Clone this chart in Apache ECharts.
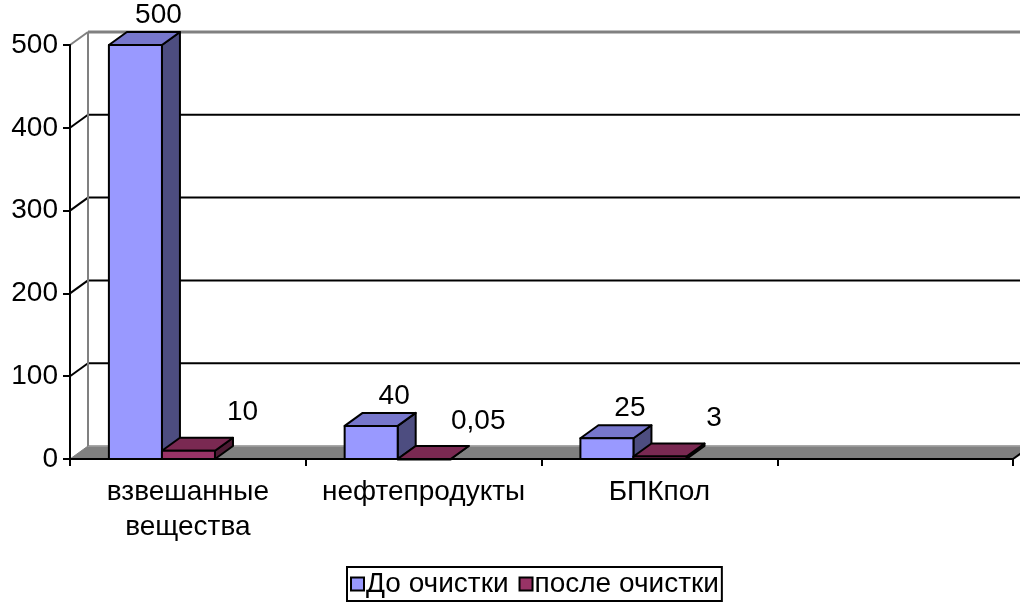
<!DOCTYPE html>
<html><head><meta charset="utf-8">
<script src="https://cdn.jsdelivr.net/npm/echarts@6/dist/echarts.min.js"></script>
<style>html,body{margin:0;padding:0;background:#fff}#chart{width:1020px;height:611px}</style>
</head><body><div id="chart"></div>
<script>
// ---- data ----
const categories = ['взвешанные\nвещества', 'нефтепродукты', 'БПКпол', ''];
const seriesNames = ['До очистки', 'после очистки'];
const beforeValues = [500, 40, 25];
const afterValues = [10, 0.05, 3];
const yTicks = [0, 100, 200, 300, 400, 500];

// ---- style ----
const DX = 18, DY = 13;
const FONT = '"Liberation Sans", Arial, sans-serif';
const FS = 28;
const palettes = [
  { front: '#9999FF', top: '#7777CC', side: '#4D4D80' },
  { front: '#993366', top: '#7A2952', side: '#4D1A33' }
];
const labelOffsets = [[5, -17], [36, -25]];
const yMin = yTicks[0], yMax = yTicks[yTicks.length - 1], yStep = yTicks[1] - yTicks[0];

function fmt(v) { return String(v).replace('.', ','); }

function barRender(si) {
  const pal = palettes[si];
  const off = labelOffsets[si];
  return function (params, api) {
    const ci = api.value(0), v = api.value(1);
    const base = api.coord([ci, 0]);
    const top = api.coord([ci, v]);
    const W = api.size([1, 0])[0];
    const bw = W * 0.225;
    const x0 = base[0] - 0.11 * W - bw + si * bw;
    const yt = top[1], yb = base[1];
    const ln = { stroke: '#000', lineWidth: 2, lineJoin: 'round' };
    return {
      type: 'group',
      children: [
        { type: 'polygon', shape: { points: [[x0 + bw, yt], [x0 + bw + DX, yt - DY], [x0 + bw + DX, yb - DY], [x0 + bw, yb]] },
          style: Object.assign({ fill: pal.side }, ln) },
        { type: 'polygon', shape: { points: [[x0, yt], [x0 + DX, yt - DY], [x0 + bw + DX, yt - DY], [x0 + bw, yt]] },
          style: Object.assign({ fill: pal.top }, ln) },
        { type: 'rect', shape: { x: x0, y: yt, width: bw, height: Math.max(yb - yt, 0.5) },
          style: Object.assign({ fill: pal.front }, ln) },
        { type: 'text', x: x0 + bw / 2 + DX + off[0], y: yt - DY + off[1], z2: 10,
          style: { text: fmt(v), fontSize: FS, fontFamily: FONT, fill: '#000', align: 'center', verticalAlign: 'middle' } }
      ]
    };
  };
}

function wallRender(params, api) {
  const v = api.value(1);
  const cs = params.coordSys;
  const xl = cs.x, xr = cs.x + cs.width;
  const y = api.coord([0, v])[1];
  const y0 = api.coord([0, yMin])[1];
  const ch = [];
  if (v === yMin) {
    ch.push({ type: 'polygon', shape: { points: [[xl, y], [xl + DX, y - DY], [xr + DX, y - DY], [xr, y]] },
      style: { fill: '#808080', stroke: '#808080', lineWidth: 1 } });
    ch.push({ type: 'line', shape: { x1: xl + DX, y1: y - DY, x2: xr + DX, y2: y - DY }, style: { stroke: '#A0A0A0', lineWidth: 1.5 } });
    ch.push({ type: 'line', shape: { x1: xr, y1: y, x2: xr + DX, y2: y - DY }, style: { stroke: '#000', lineWidth: 2 } });
  } else {
    const isTop = v === yMax;
    const col = isTop ? '#808080' : '#000';
    ch.push({ type: 'line', shape: { x1: xl, y1: y, x2: xl + DX, y2: y - DY }, style: { stroke: col, lineWidth: 2 } });
    ch.push({ type: 'line', shape: { x1: xl + DX, y1: y - DY, x2: xr + DX, y2: y - DY }, style: { stroke: col, lineWidth: isTop ? 3 : 2 } });
    if (isTop) {
      ch.push({ type: 'line', shape: { x1: xl + DX, y1: y - DY, x2: xl + DX, y2: y0 - DY }, style: { stroke: '#808080', lineWidth: 2 } });
    }
  }
  return { type: 'group', children: ch };
}

const chart = echarts.init(document.getElementById('chart'), null, { renderer: 'canvas' });
chart.setOption({
  animation: false,
  backgroundColor: '#fff',
  grid: { left: 70, right: 7, top: 45, bottom: 152, containLabel: false },
  xAxis: {
    type: 'category', data: categories, z: 10,
    axisLine: { lineStyle: { color: '#000', width: 2 } },
    axisTick: { show: true, alignWithLabel: false, interval: 0, length: 7, lineStyle: { color: '#000', width: 2 } },
    axisLabel: { interval: 0, margin: 16, fontSize: FS, lineHeight: 35, fontFamily: FONT, color: '#000' },
    splitLine: { show: false }
  },
  yAxis: {
    type: 'value', min: yMin, max: yMax, interval: yStep, z: 10,
    axisLine: { show: true, lineStyle: { color: '#000', width: 2 } },
    axisTick: { show: true, length: 7, lineStyle: { color: '#000', width: 2 } },
    axisLabel: { margin: 12, fontSize: FS, fontFamily: FONT, color: '#000' },
    splitLine: { show: false }
  },
  legend: {
    data: seriesNames.map((n, i) => ({ name: n, itemStyle: { color: palettes[i].front, borderColor: '#000', borderWidth: 2 } })),
    left: 347, top: 567, icon: 'rect', itemWidth: 13, itemHeight: 13, itemGap: 10,
    borderColor: '#000', borderWidth: 2, padding: [3, 3, 3, 3], backgroundColor: '#fff',
    textStyle: { fontSize: FS, fontFamily: FONT, color: '#000', padding: [0, 0, 0, -3] }, selectedMode: false
  },
  series: [
    { type: 'custom', name: 'wall', z: 1, silent: true, renderItem: wallRender,
      data: yTicks.map(v => [0, v]) },
    { type: 'custom', name: seriesNames[0], z: 3, renderItem: barRender(0),
      itemStyle: { color: palettes[0].front }, data: beforeValues.map((v, i) => [i, v]) },
    { type: 'custom', name: seriesNames[1], z: 3, renderItem: barRender(1),
      itemStyle: { color: palettes[1].front }, data: afterValues.map((v, i) => [i, v]) }
  ]
});
</script></body></html>
